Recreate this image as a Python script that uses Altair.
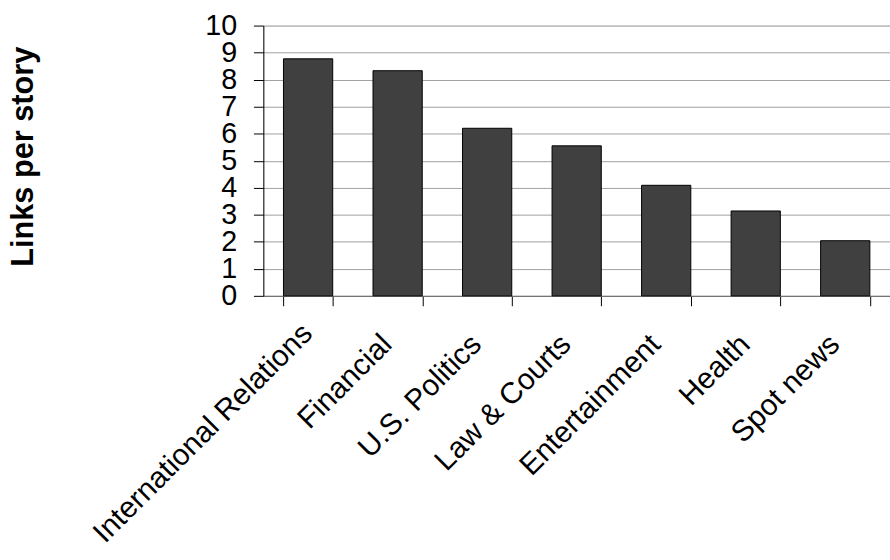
import altair as alt
import pandas as pd

# Average number of links per story, by news topic
topics = [
    "International Relations",
    "Financial",
    "U.S. Politics",
    "Law & Courts",
    "Entertainment",
    "Health",
    "Spot news",
]
links_per_story = [8.77, 8.33, 6.2, 5.55, 4.09, 3.14, 2.04]
y_ticks = list(range(0, 11))

df = pd.DataFrame({"topic": topics, "links": links_per_story})

FONT = "Liberation Sans"

# the longest category label sits a little higher along its slant
long_label = "datum.value === 'International Relations'"

bars = (
    alt.Chart(df)
    .mark_bar(color="#404040", stroke="#000000", strokeWidth=1)
    .encode(
        x=alt.X(
            "topic:N",
            sort=topics,
            scale=alt.Scale(paddingInner=0.45, paddingOuter=0.225),
            axis=alt.Axis(
                title=None,
                labelAngle=-45,
                labelAlign="right",
                labelBaseline="middle",
                labelFont=FONT,
                labelFontSize=30,
                labelColor="#000000",
                labelPadding={"condition": {"test": long_label, "value": 23}, "value": 34},
                labelOffset={"condition": {"test": long_label, "value": -1}, "value": -11},
                labelLimit=0,
                labelOverlap=False,
                tickBand="extent",
                tickSize=10,
                tickColor="#000000",
                domainColor="#666666",
                grid=False,
            ),
        ),
        y=alt.Y(
            "links:Q",
            scale=alt.Scale(domain=[0, 10], nice=False),
            axis=alt.Axis(
                title="Links per story",
                titleFont=FONT,
                titleFontSize=31,
                titleFontWeight="bold",
                titleColor="#000000",
                titleAngle=-90,
                titleAlign="center",
                titleBaseline="alphabetic",
                titleX=-233,
                titleY=132,
                values=y_ticks,
                labelFont=FONT,
                labelFontSize=29,
                labelColor="#000000",
                labelPadding=17,
                labelOverlap=False,
                tickSize=10,
                tickColor="#000000",
                domainColor="#000000",
                gridColor="#a0a0a0",
                gridWidth=1,
            ),
        ),
    )
)

chart = (
    bars.properties(
        width=633,
        height=273,
        autosize=alt.AutoSizeParams(type="none"),
        padding={"left": 266, "top": 23, "right": 0, "bottom": 264},
    )
    .configure_view(stroke=None)
    .configure(background="#ffffff")
)

chart.save("out.html", embed_options={"renderer": "svg", "actions": False})
